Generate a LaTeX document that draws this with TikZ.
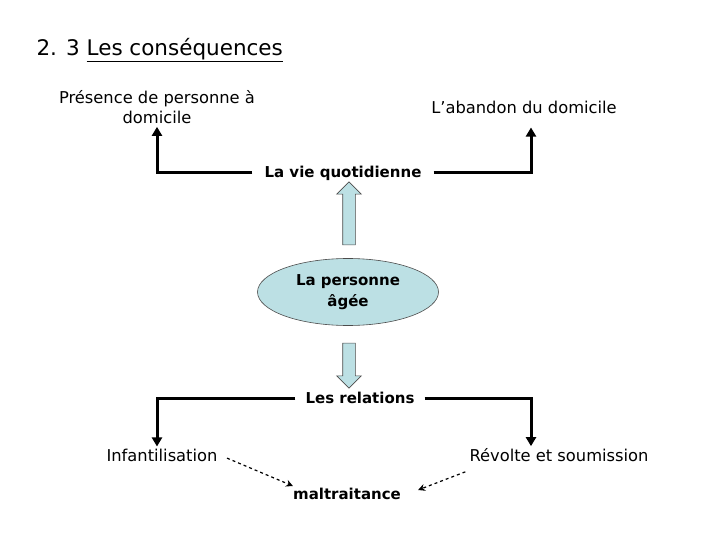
\documentclass[tikz,border=0pt]{standalone}
\usepackage{fontspec}
\setmainfont{DejaVu Sans}
\usetikzlibrary{arrows.meta,shapes.geometric,shapes.arrows}

\definecolor{paleblue}{HTML}{BCE0E4}

\tikzset{
  txt/.style={font=\fontsize{16.3}{20}\selectfont, inner sep=2pt},
  boldtxt/.style={txt, font=\fontsize{15}{19}\selectfont\bfseries},
  link/.style={line width=3pt, -{Triangle[width=10pt,length=9pt]}},
  dashlink/.style={line width=1.2pt, dashed, -{Stealth[width=7pt,length=7pt]}},
  bigarrow/.style={single arrow, draw=black!70, fill=paleblue, line width=0.6pt,
                   inner xsep=0pt, inner ysep=6pt, single arrow head extend=6pt,
                   single arrow head indent=0pt}
}

\begin{document}
\begin{tikzpicture}[x=1pt, y=-1pt]
  \useasboundingbox (0,0) rectangle (720,540);

  \node[anchor=west, font=\fontsize{21.5}{25}\selectfont] (title) at (33,50)
    {2. 3 \underline{Les conséquences}};

  \node[txt, align=center] (pres) at (157,107) {Présence de personne à\\domicile};
  \node[txt] (aband) at (524,107) {L’abandon du domicile};
  \node[boldtxt, inner xsep=12pt] (vie) at (343,173) {La vie quotidienne};

  \node[ellipse, draw=black!70, fill=paleblue, line width=0.6pt,
        minimum width=181pt, minimum height=67pt, align=center,
        font=\fontsize{15}{21}\selectfont\bfseries] (pers) at (348,292)
    {La personne\\âgée};

  \node[boldtxt, inner xsep=10pt] (rel) at (360,398) {Les relations};
  \node[txt] (inf) at (162,455) {Infantilisation};
  \node[txt] (rev) at (559,455) {Révolte et soumission};
  \node[boldtxt] (mal) at (347,494) {maltraitance};

  % block arrows
  \node[bigarrow, rotate=90, minimum height=63pt] (up) at (349,216.5) {};
  \node[bigarrow, rotate=-90, minimum height=45pt] (down) at (349,362.5) {};

  % links
  \draw[link] (vie.west) -| ([yshift=-1pt]pres.south);
  \draw[link] (vie.east) -| ([xshift=7pt,yshift=-12pt]aband.south);
  \draw[link] (rel.west) -| ([xshift=-5pt]inf.north);
  \draw[link] (rel.east) -| ([xshift=-28pt]rev.north);

  \draw[dashlink, shorten <=8pt] (inf.east) -- ([xshift=2pt]mal.north west);
  \draw[dashlink] ([xshift=-2pt,yshift=-8pt]rev.south west) -- ([xshift=15pt,yshift=-4pt]mal.north east);
\end{tikzpicture}
\end{document}
